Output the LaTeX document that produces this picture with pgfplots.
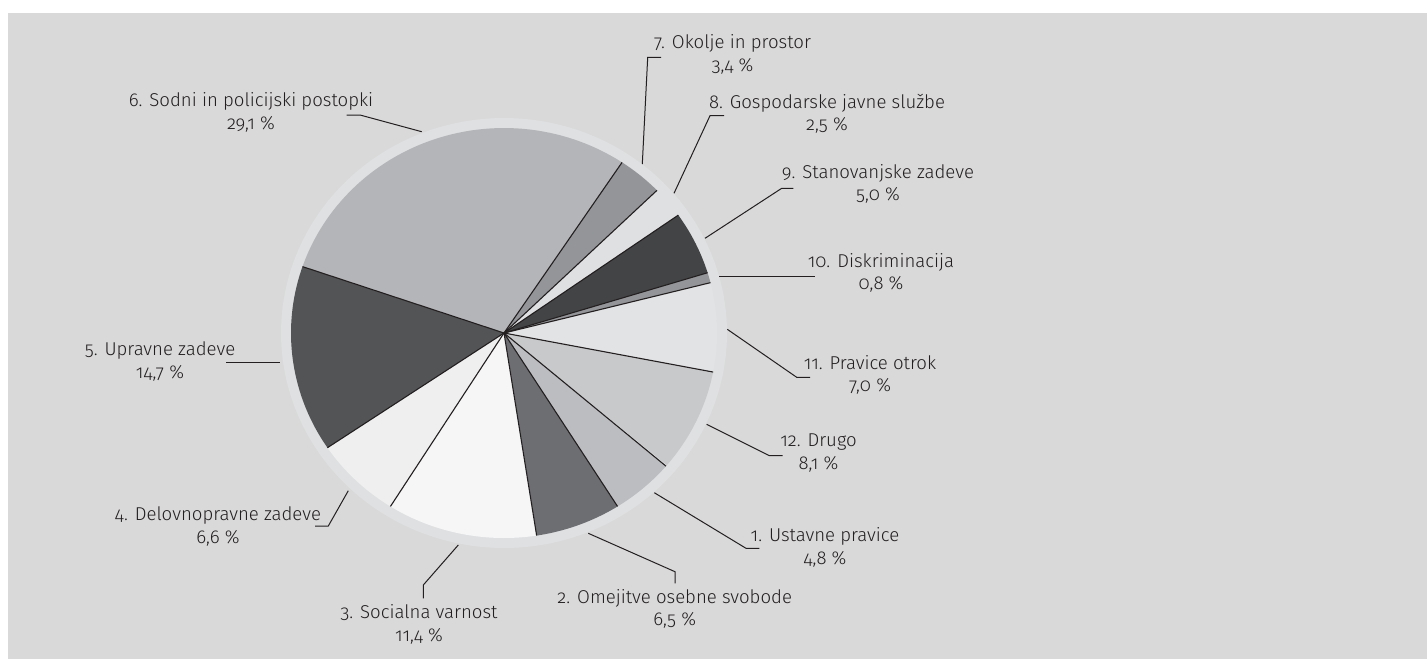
\documentclass[border=0pt]{standalone}
\usepackage{pgfplots}
\pgfplotsset{compat=1.18}
\usepackage{fontspec}
\setmainfont{Fira Sans Light}[Numbers=OldStyle]
\definecolor{bg}{HTML}{D9D9D9}
\definecolor{ring}{HTML}{DFE0E2}
\definecolor{txt}{HTML}{231F20}
\definecolor{cA}{HTML}{BCBDC0}
\definecolor{cB}{HTML}{6D6E71}
\definecolor{cC}{HTML}{F6F6F6}
\definecolor{cD}{HTML}{EFEFF0}
\definecolor{cE}{HTML}{535456}
\definecolor{cF}{HTML}{B4B5B8}
\definecolor{cG}{HTML}{939598}
\definecolor{cH}{HTML}{DFE0E2}
\definecolor{cI}{HTML}{434446}
\definecolor{cJ}{HTML}{939598}
\definecolor{cK}{HTML}{E2E3E5}
\definecolor{cL}{HTML}{C8C9CB}

\newcommand\cum{0}
\newcommand\radials{}
\newcommand\slice[2]{%
  \pgfmathsetmacro\aS{-40.5-\cum*3.6}%
  \pgfmathsetmacro\aE{-40.5-(\cum+#1)*3.6}%
  \edef\doslice{\noexpand\addplot[fill=#2, draw=none, domain=\aE:\aS, samples=60, variable=\noexpand\t] ({504+213*cos(\noexpand\t)}, {333-205*sin(\noexpand\t)}) -- (axis cs:504,333) -- cycle;}%
  \doslice
  \pgfmathsetmacro\lx{504+213*cos(\aS)}%
  \pgfmathsetmacro\ly{333-205*sin(\aS)}%
  \xdef\radials{\unexpanded\expandafter{\radials}\noexpand\addplot[txt, line width=0.55pt] coordinates {(504,333) (\lx,\ly)};}%
  \pgfmathsetmacro\newcum{\cum+#1}%
  \xdef\cum{\newcum}%
}
\newcommand\lab[3]{\node[align=center, text=txt, font=\fontsize{9.3}{11.3}\selectfont, anchor=center, inner sep=0pt] at (axis cs:#1,#2) {#3};}

\begin{document}
\begin{tikzpicture}
\begin{axis}[width=713.5pt, height=329.5pt, scale only axis,
  xmin=0, xmax=1427, ymin=0, ymax=659, y dir=reverse,
  hide axis, clip=false]
\addplot[fill=white, draw=none] coordinates {(0,0) (1427,0) (1427,659) (0,659)} -- cycle;
\addplot[fill=bg, draw=none] coordinates {(8,13) (1427,13) (1427,659) (8,659)} -- cycle;
\addplot[fill=ring, draw=none, domain=0:360, samples=180, variable=\t] ({504+223*cos(\t)}, {333-215*sin(\t)}) -- cycle;
% slices: percentage, colour (1..12)
\slice{4.8}{cA}
\slice{6.5}{cB}
\slice{11.4}{cC}
\slice{6.6}{cD}
\slice{14.7}{cE}
\slice{29.1}{cF}
\slice{3.4}{cG}
\slice{2.5}{cH}
\slice{5.0}{cI}
\slice{0.8}{cJ}
\slice{7.0}{cK}
\slice{8.1}{cL}
\radials
% leader lines
\addplot[txt, line width=0.5pt] coordinates {(346.7,115) (360,115) (421.7,131.7)};
\addplot[txt, line width=0.5pt] coordinates {(661,57.3) (647.7,57.3) (642.3,164)};
\addplot[txt, line width=0.5pt] coordinates {(724,115.7) (710,115.7) (674,193.3)};
\addplot[txt, line width=0.5pt] coordinates {(793.3,188.3) (781.7,188.3) (705,238.3)};
\addplot[txt, line width=0.5pt] coordinates {(815,276) (719.3,276)};
\addplot[txt, line width=0.5pt] coordinates {(810,377.3) (796.7,377.3) (727.3,329.3)};
\addplot[txt, line width=0.5pt] coordinates {(782.7,455.7) (769.3,455.7) (706.7,424.3)};
\addplot[txt, line width=0.5pt] coordinates {(759.3,548.3) (746,548.3) (654.3,492.7)};
\addplot[txt, line width=0.5pt] coordinates {(675,583.3) (675,571.7) (588.3,533.3)};
\addplot[txt, line width=0.5pt] coordinates {(423.3,598.3) (423.3,585) (458.3,545)};
\addplot[txt, line width=0.5pt] coordinates {(315,526) (328.3,526) (348.3,490.7)};
\addplot[txt, line width=0.5pt] coordinates {(226,362.7) (280,362.7)};
% labels
\lab{251}{112.5}{6. Sodni in policijski postopki\\29,1 \%}
\lab{732.5}{54.5}{7. Okolje in prostor\\3,4 \%}
\lab{827}{113.7}{8. Gospodarske javne službe\\2,5 \%}
\lab{878}{183.7}{9. Stanovanjske zadeve\\5,0 \%}
\lab{881}{272.8}{10. Diskriminacija\\0,8 \%}
\lab{870}{375}{11. Pravice otrok\\7,0 \%}
\lab{818.5}{453.3}{12. Drugo\\8,1 \%}
\lab{825}{547.5}{1. Ustavne pravice\\4,8 \%}
\lab{674.7}{608.8}{2. Omejitve osebne svobode\\6,5 \%}
\lab{419}{624.5}{3. Socialna varnost\\11,4 \%}
\lab{218}{526.7}{4. Delovnopravne zadeve\\6,6 \%}
\lab{160}{361.7}{5. Upravne zadeve\\14,7 \%}
\end{axis}
\end{tikzpicture}
\end{document}
